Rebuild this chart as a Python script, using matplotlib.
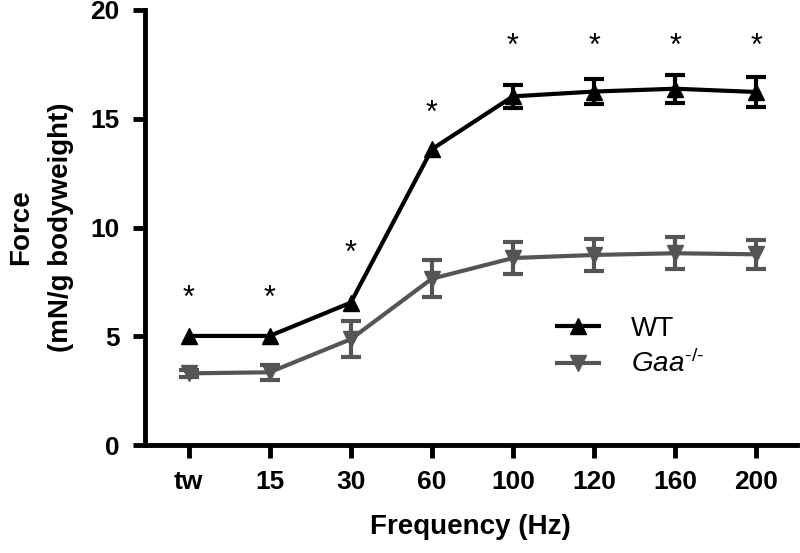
import matplotlib.pyplot as plt

plt.rcParams['font.family'] = ['Liberation Sans', 'DejaVu Sans']
plt.rcParams['mathtext.fontset'] = 'custom'
plt.rcParams['mathtext.it'] = 'Liberation Sans:italic'
plt.rcParams['mathtext.rm'] = 'Liberation Sans'

# data
freqs = ['tw', '15', '30', '60', '100', '120', '160', '200']
wt_mean = [5.02, 5.02, 6.55, 13.6, 16.03, 16.25, 16.38, 16.23]
wt_err = [0.0, 0.0, 0.0, 0.0, 0.52, 0.57, 0.65, 0.7]
gaa_mean = [3.3, 3.35, 4.87, 7.65, 8.6, 8.74, 8.82, 8.77]
gaa_err = [0.15, 0.35, 0.83, 0.85, 0.72, 0.73, 0.73, 0.68]
star_y = [6.7, 6.7, 8.8, 15.2, 18.3, 18.3, 18.3, 18.3]

x = list(range(len(freqs)))

fig = plt.figure(figsize=(8, 5.53), dpi=100)
ax = fig.add_axes([0.181, 0.195, 0.815, 0.787])

gray = '#555555'
lw = 3

# error bars first (only where visible), then lines with markers on top
for mean, err, c in [(wt_mean, wt_err, 'black'), (gaa_mean, gaa_err, gray)]:
    xs = [xi for xi, e in zip(x, err) if e > 0]
    ms_ = [m for m, e in zip(mean, err) if e > 0]
    es = [e for e in err if e > 0]
    ax.errorbar(xs, ms_, yerr=es, fmt='none', ecolor=c, elinewidth=lw,
                capsize=7, capthick=lw, zorder=2)

wt_line, = ax.plot(x, wt_mean, color='black', lw=lw, marker='^', ms=12, zorder=4)
gaa_line, = ax.plot(x, gaa_mean, color=gray, lw=lw, marker='v', ms=12, zorder=3)

for xi, sy in zip(x, star_y):
    ax.text(xi, sy, '*', ha='center', va='center', fontsize=22)

ax.set_xlim(-0.54, 7.5)
ax.set_ylim(0, 20)
ax.set_yticks([0, 5, 10, 15, 20])
ax.set_xticks(x)
ax.set_xticklabels(freqs)
ax.spines['top'].set_visible(False)
ax.spines['right'].set_visible(False)
for s in ['left', 'bottom']:
    ax.spines[s].set_linewidth(3.5)
ax.tick_params(direction='out', length=9, width=3.5, labelsize=19, pad=9)
for lbl in ax.get_xticklabels() + ax.get_yticklabels():
    lbl.set_fontweight('bold')

ax.set_xlabel('Frequency (Hz)', fontsize=20, fontweight='bold', labelpad=14)
ax.set_ylabel('Force\n(mN/g bodyweight)', fontsize=20, fontweight='bold', labelpad=12,
              linespacing=1.7)

ax.legend([wt_line, gaa_line], ['WT', '$\\mathit{Gaa}^{\\mathit{\u2010/\u2010}}$'],
          loc='upper left', bbox_to_anchor=(0.594, 0.355), frameon=False, fontsize=20,
          handlelength=1.5, labelspacing=0.3, handletextpad=1.15)

fig.savefig('out.png', dpi=100)
